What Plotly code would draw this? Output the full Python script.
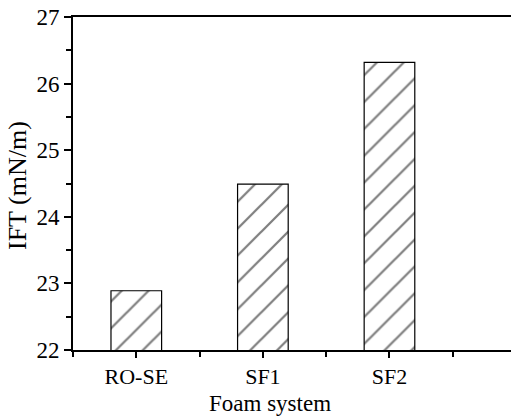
import plotly.graph_objects as go

categories = ["RO-SE", "SF1", "SF2"]
positions = [0, 1, 2]
ift_values = [22.89, 24.49, 26.32]
y_tick_vals = [22, 23, 24, 25, 26, 27]
y_minor_vals = [22.5, 23.5, 24.5, 25.5, 26.5]
x_minor_vals = [-0.5, 0.5, 1.5, 2.5]

font_family = "Liberation Serif, Times New Roman, serif"

fig = go.Figure()
fig.add_trace(go.Bar(
    x=positions,
    y=ift_values,
    width=0.4,
    marker=dict(
        color="white",
        line=dict(color="black", width=1.2),
        pattern=dict(shape="/", fgcolor="black", bgcolor="white", size=19, solidity=0.12),
    ),
))

fig.update_layout(
    width=511, height=416,
    margin=dict(l=73, r=0, t=17, b=66),
    plot_bgcolor="white", paper_bgcolor="white",
    showlegend=False,
    font=dict(family=font_family, size=22, color="black"),
)
fig.update_xaxes(
    range=[-0.5, 2.96],
    tickmode="array", tickvals=positions, ticktext=categories,
    ticks="outside", ticklen=6, tickwidth=2, tickcolor="black",
    minor=dict(tickmode="array", tickvals=x_minor_vals, ticks="outside",
               ticklen=5, tickwidth=2, tickcolor="black", showgrid=False),
    showline=True, linewidth=2, linecolor="black", mirror=True,
    showgrid=False, zeroline=False,
    tickfont=dict(size=22),
)
fig.update_yaxes(
    range=[22, 27],
    tickmode="array", tickvals=y_tick_vals,
    ticks="outside", ticklen=7, tickwidth=2, tickcolor="black",
    minor=dict(tickmode="array", tickvals=y_minor_vals, ticks="outside",
               ticklen=5, tickwidth=2, tickcolor="black", showgrid=False),
    showline=True, linewidth=2, linecolor="black", mirror=False,
    showgrid=False, zeroline=False,
    tickfont=dict(size=23),
)
fig.add_annotation(
    text="IFT (mN/m)", xref="paper", yref="paper",
    x=0, y=0.4925, xanchor="center", yanchor="middle",
    xshift=-55, textangle=-90, showarrow=False, font=dict(size=26),
)
fig.add_annotation(
    text="Foam system", xref="paper", yref="paper",
    x=0.45, y=0, yanchor="top", xanchor="center",
    yshift=-39, showarrow=False, font=dict(size=23),
)

fig.write_html("out.html")
